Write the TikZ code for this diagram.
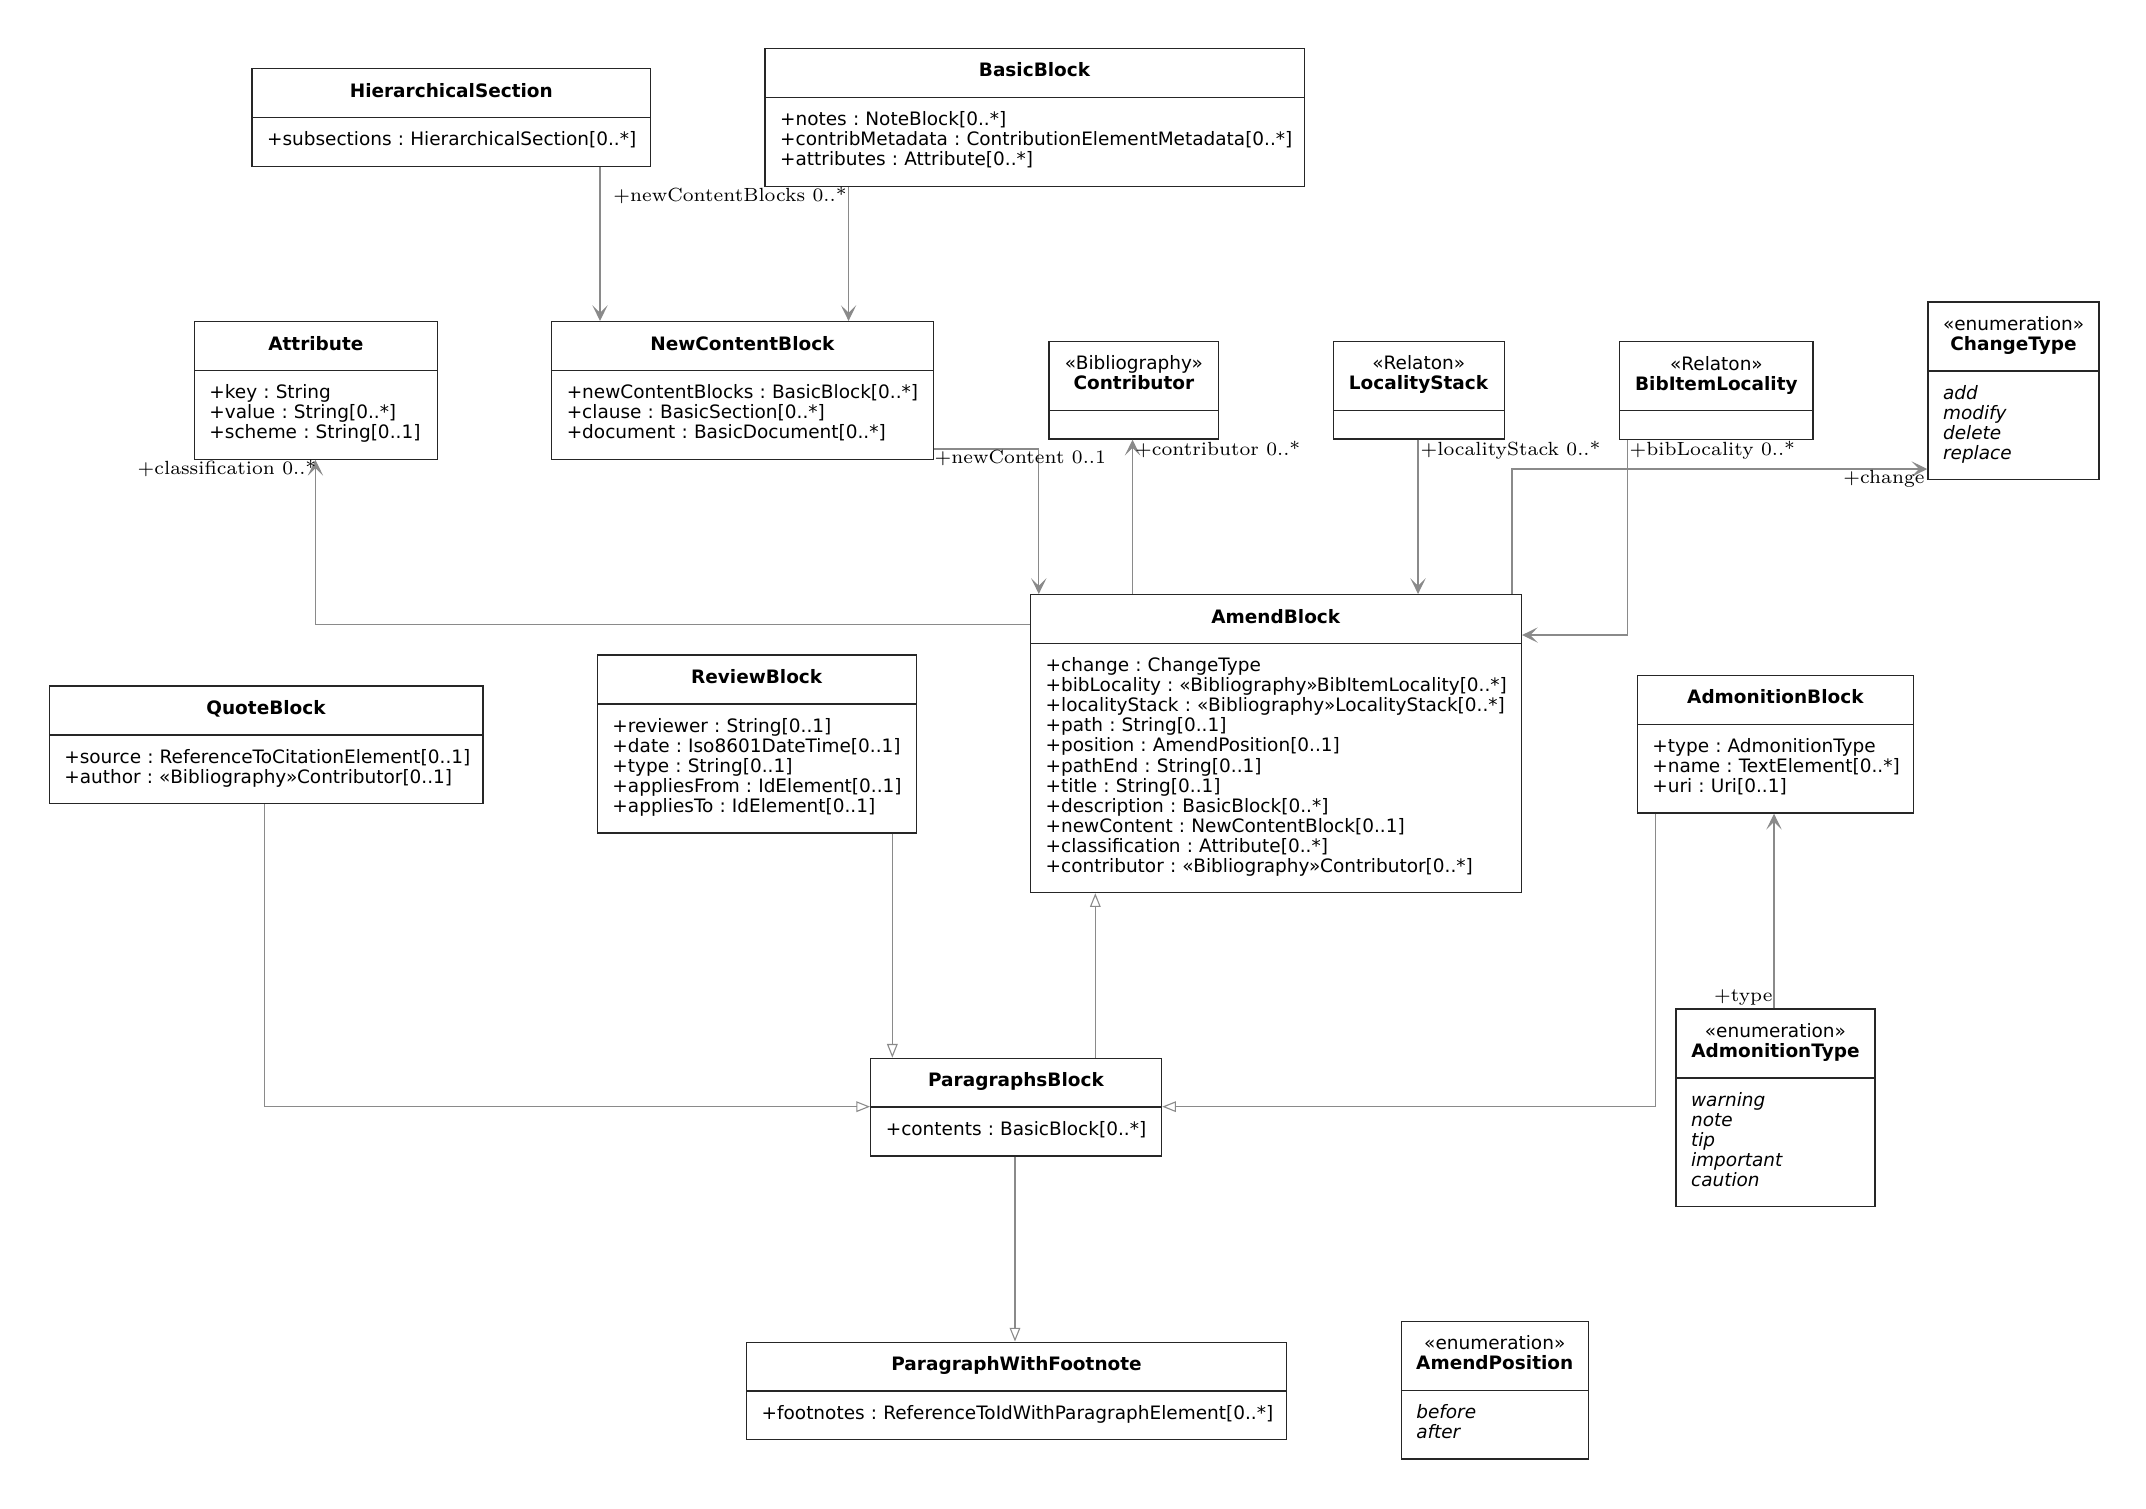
\documentclass[tikz,border=0pt]{standalone}
\usepackage{fontspec}
\usepackage{array}
\newfontfamily\umlfont{DejaVu Sans}
\usetikzlibrary{shapes.multipart,arrows.meta,positioning}
\definecolor{linkgray}{HTML}{8A8A8A}
\newcommand\umltitle[1]{\makebox[\linewidth]{\begin{tabular}{@{}c@{}}#1\end{tabular}}}
\newcommand\umlattrs[1]{\begin{tabular}{@{}l@{}}#1\end{tabular}}
\newcommand\umlenum[1]{\begin{tabular}{@{}>{\itshape}l@{}}#1\end{tabular}}
\tikzset{cls/.style={rectangle split,rectangle split parts=2,draw=black!85,line width=1pt,anchor=north west,align=left,inner xsep=11pt,inner ysep=10pt,font=\umlfont\fontsize{13.5}{14.6}\selectfont\frenchspacing},
  assoc/.style={draw=linkgray,line width=0.9pt,-{Stealth[length=11.5pt,width=11.2pt,inset=5.5pt]}},
  gen/.style={draw=linkgray,line width=0.8pt,-{Triangle[open,length=10pt,width=7.8pt]}},
  role/.style={inner sep=0pt,scale=1.99,font=\fontsize{7}{8}\selectfont}}

\begin{document}
\begin{tikzpicture}[x=1pt,y=-1pt]
    \useasboundingbox (0,0) rectangle (1568,1101.9);
    \node[cls,text width=269.3pt] (hsec) at (183.6,49.7) {\umltitle{\textbf{HierarchicalSection}}\nodepart{two}\umlattrs{+subsections : HierarchicalSection[0..*]}};
    \node[cls,text width=372pt] (basic) at (558.5,35) {\umltitle{\textbf{BasicBlock}}\nodepart{two}\umlattrs{+notes : NoteBlock[0..*]\\+contribMetadata : ContributionElementMetadata[0..*]\\+attributes : Attribute[0..*]}};
    \node[cls,text width=155.6pt] (attr) at (141.5,234.5) {\umltitle{\textbf{Attribute}}\nodepart{two}\umlattrs{+key : String\\+value : String[0..*]\\+scheme : String[0..1]}};
    \node[cls,text width=257pt] (ncb) at (402.6,234.5) {\umltitle{\textbf{NewContentBlock}}\nodepart{two}\umlattrs{+newContentBlocks : BasicBlock[0..*]\\+clause : BasicSection[0..*]\\+document : BasicDocument[0..*]}};
    \node[cls,text width=102pt] (contrib) at (766,249) {\umltitle{«Bibliography»\\\textbf{Contributor}}\nodepart{two}};
    \node[cls,text width=103pt] (lstack) at (973.6,249) {\umltitle{«Relaton»\\\textbf{LocalityStack}}\nodepart{two}};
    \node[cls,text width=119.2pt] (bil) at (1183,249.2) {\umltitle{«Relaton»\\\textbf{BibItemLocality}}\nodepart{two}};
    \node[cls,text width=103pt] (ctype) at (1408.2,220.2) {\umltitle{«enumeration»\\\textbf{ChangeType}}\nodepart{two}\umlenum{add\\modify\\delete\\replace}};
    \node[cls,text width=336.6pt] (amend) at (752.5,434) {\umltitle{\textbf{AmendBlock}}\nodepart{two}\umlattrs{+change : ChangeType\\+bibLocality : «Bibliography»BibItemLocality[0..*]\\+localityStack : «Bibliography»LocalityStack[0..*]\\+path : String[0..1]\\+position : AmendPosition[0..1]\\+pathEnd : String[0..1]\\+title : String[0..1]\\+description : BasicBlock[0..*]\\+newContent : NewContentBlock[0..1]\\+classification : Attribute[0..*]\\+contributor : «Bibliography»Contributor[0..*]}};
    \node[cls,text width=295pt] (quote) at (35.5,500.8) {\umltitle{\textbf{QuoteBlock}}\nodepart{two}\umlattrs{+source : ReferenceToCitationElement[0..1]\\+author : «Bibliography»Contributor[0..1]}};
    \node[cls,text width=211pt] (review) at (436,478.2) {\umltitle{\textbf{ReviewBlock}}\nodepart{two}\umlattrs{+reviewer : String[0..1]\\+date : Iso8601DateTime[0..1]\\+type : String[0..1]\\+appliesFrom : IdElement[0..1]\\+appliesTo : IdElement[0..1]}};
    \node[cls,text width=180pt] (admon) at (1195.8,493) {\umltitle{\textbf{AdmonitionBlock}}\nodepart{two}\umlattrs{+type : AdmonitionType\\+name : TextElement[0..*]\\+uri : Uri[0..1]}};
    \node[cls,text width=190.5pt] (para) at (635.7,772.8) {\umltitle{\textbf{ParagraphsBlock}}\nodepart{two}\umlattrs{+contents : BasicBlock[0..*]}};
    \node[cls,text width=123.3pt] (atype) at (1224.1,736.8) {\umltitle{«enumeration»\\\textbf{AdmonitionType}}\nodepart{two}\umlenum{warning\\note\\tip\\important\\caution}};
    \node[cls,text width=372.5pt] (pwf) at (545,980.2) {\umltitle{\textbf{ParagraphWithFootnote}}\nodepart{two}\umlattrs{+footnotes : ReferenceToIdWithParagraphElement[0..*]}};
    \node[cls,text width=114.7pt] (apos) at (1023.3,965.1) {\umltitle{«enumeration»\\\textbf{AmendPosition}}\nodepart{two}\umlenum{before\\after}};
    \draw [assoc] (hsec.south -| 438.4,0) -- (ncb.north -| 438.4,0);
    \draw [assoc] (basic.south -| 620,0) -- (ncb.north -| 620,0);
    \draw [assoc] (ncb.east |- 0,328) -| (amend.north -| 759,0);
    \draw [assoc] (amend.north -| 827.5,0) -- (contrib.south -| 827.5,0);
    \draw [assoc] (lstack.south -| 1036.1,0) -- (amend.north -| 1036.1,0);
    \draw [assoc] (bil.south -| 1189,0) |- (amend.east |- 0,464);
    \draw [assoc] (amend.north -| 1104.8,0) |- (ctype.west |- 0,342.7);
    \draw [assoc] (amend.west |- 0,456.1) -| (attr.south -| 230.5,0);
    \draw [assoc] (atype.north -| 1296.2,0) -- (admon.south -| 1296.2,0);
    \draw [gen] (quote.south -| 193.5,0) |- (para.west |- 0,808.6);
    \draw [gen] (review.south -| 652,0) -- (para.north -| 652,0);
    \draw [gen] (para.north -| 800.3,0) -- (amend.south -| 800.3,0);
    \draw [gen] (admon.south -| 1209.7,0) |- (para.east |- 0,808.6);
    \draw [gen] (para.south -| 741.6,0) -- (pwf.north -| 741.6,0);
    \node[role,anchor=base east] (rBlocks) at (619,147.4) {+newContentBlocks 0..*};
    \node[role,anchor=base west] (rContent) at (682.5,338.5) {+newContent 0..1};
    \node[role,anchor=base west] (rContrib) at (829,332.5) {+contributor 0..*};
    \node[role,anchor=base west] (rStack) at (1037.6,332.5) {+localityStack 0..*};
    \node[role,anchor=base west] (rBib) at (1190.3,333) {+bibLocality 0..*};
    \node[role,anchor=base east] (rChange) at (1406.6,353.1) {+change};
    \node[role,anchor=base east] (rClass) at (231.5,347) {+classification 0..*};
    \node[role,anchor=base east] (rType) at (1295.5,732) {+type};
\end{tikzpicture}
\end{document}
